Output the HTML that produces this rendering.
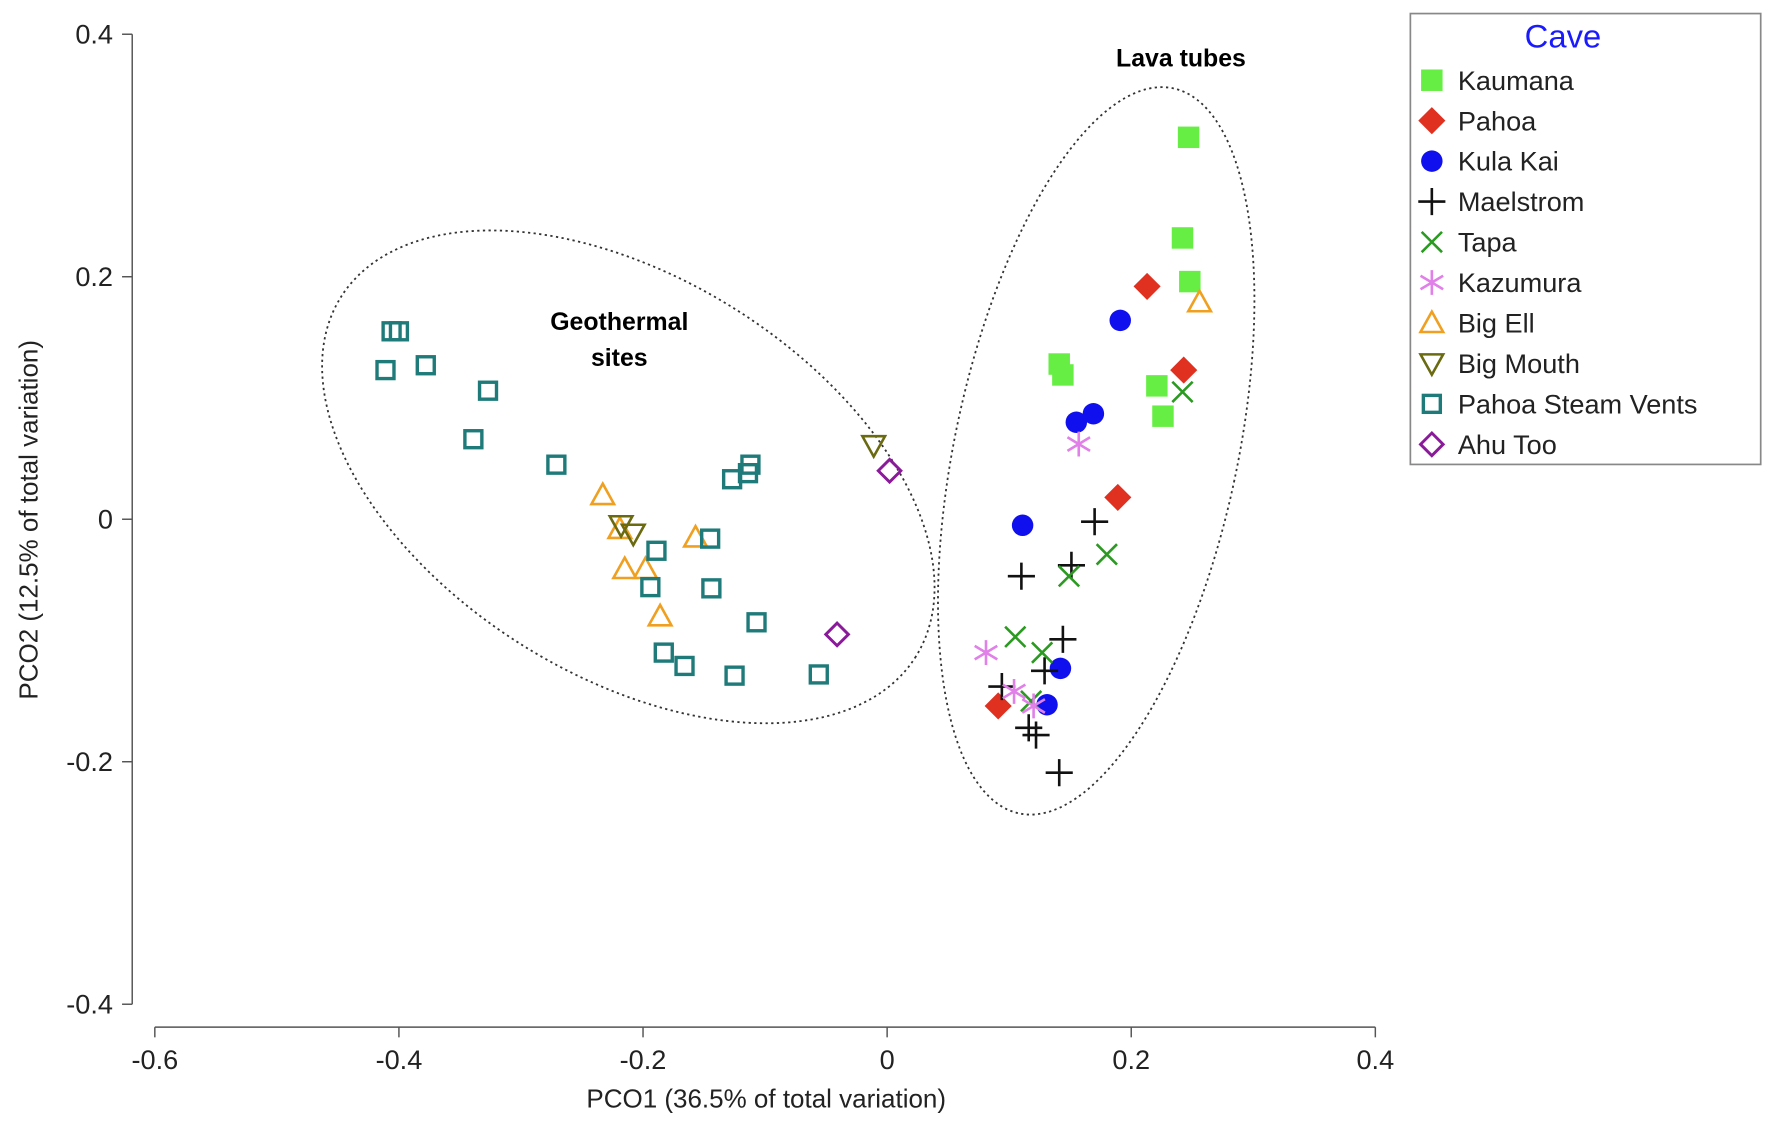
<!DOCTYPE html>
<html><head><meta charset="utf-8"><style>
html,body{margin:0;padding:0;background:#fff;}
svg{display:block;}
text{font-family:"Liberation Sans",sans-serif;}
</style></head><body>
<svg id="chart" width="1772" height="1130" viewBox="0 0 1568 1000" preserveAspectRatio="none" xmlns="http://www.w3.org/2000/svg">
<g id="axes"></g>
<ellipse cx="556" cy="422" rx="300" ry="176" transform="rotate(32 556 422)" fill="none" stroke="#333" stroke-width="1.6" stroke-dasharray="2 3"/>
<ellipse cx="970" cy="399" rx="125" ry="328" transform="rotate(12 970 399)" fill="none" stroke="#333" stroke-width="1.6" stroke-dasharray="2 3"/>
<text x="548" y="292" font-size="22" font-weight="bold" text-anchor="middle">Geothermal</text>
<text x="548" y="324" font-size="22" font-weight="bold" text-anchor="middle">sites</text>
<text x="1045" y="59" font-size="22" font-weight="bold" text-anchor="middle">Lava tubes</text>
<g id="points"></g>
<g id="legend">
<rect x="1248" y="12" width="310" height="399" fill="#fff" stroke="#888" stroke-width="1.5"/>
<text x="1383" y="42" font-size="29" fill="#1a1aff" text-anchor="middle">Cave</text>
</g>
</svg>
<script>
const xTicks=[-0.6,-0.4,-0.2,0,0.2,0.4];
const yTicks=[0.4,0.2,0,-0.2,-0.4];
const kaumanaX=[0.247,0.242,0.248,0.141,0.144,0.221,0.226];
const kaumanaY=[0.315,0.232,0.196,0.128,0.119,0.110,0.085];
const pahoaX=[0.213,0.243,0.189,0.091];
const pahoaY=[0.192,0.123,0.018,-0.154];
const kulaX=[0.191,0.169,0.155,0.111,0.142,0.131];
const kulaY=[0.164,0.087,0.080,-0.005,-0.123,-0.153];
const maelX=[0.170,0.151,0.110,0.144,0.129,0.094,0.116,0.122,0.141];
const maelY=[-0.002,-0.038,-0.047,-0.099,-0.125,-0.138,-0.172,-0.178,-0.209];
const tapaX=[0.242,0.180,0.149,0.105,0.127,0.118];
const tapaY=[0.105,-0.029,-0.047,-0.097,-0.110,-0.150];
const kazX=[0.157,0.081,0.104,0.120];
const kazY=[0.062,-0.110,-0.142,-0.154];
const bigEllX=[0.256,-0.233,-0.219,-0.157,-0.215,-0.198,-0.186];
const bigEllY=[0.179,0.020,-0.008,-0.015,-0.041,-0.041,-0.080];
const bigMouthX=[-0.011,-0.218,-0.208];
const bigMouthY=[0.061,-0.005,-0.012];
const steamX=[-0.406,-0.400,-0.411,-0.378,-0.327,-0.339,-0.271,-0.112,-0.114,-0.127,-0.145,-0.189,-0.194,-0.144,-0.107,-0.183,-0.166,-0.125,-0.056];
const steamY=[0.155,0.155,0.123,0.127,0.106,0.066,0.045,0.045,0.038,0.033,-0.016,-0.026,-0.056,-0.057,-0.085,-0.110,-0.121,-0.129,-0.128];
const ahuX=[0.002,-0.041];
const ahuY=[0.040,-0.095];
const seriesNames=["Kaumana","Pahoa","Kula Kai","Maelstrom","Tapa","Kazumura","Big Ell","Big Mouth","Pahoa Steam Vents","Ahu Too"];

const NS="http://www.w3.org/2000/svg";
function sx(v){return 785+v*1080;}
function sy(v){return 459.5-v*1073;}
function mk(tag,attrs,parent){const e=document.createElementNS(NS,tag);for(const k in attrs)e.setAttribute(k,attrs[k]);parent.appendChild(e);return e;}

const axes=document.getElementById('axes');
let l=mk('line',{x1:117,y1:sy(0.4),x2:117,y2:sy(-0.4),stroke:'#555','stroke-width':1.3},axes);


l=mk('line',{x1:sx(-0.6),y1:909,x2:sx(0.4),y2:909,stroke:'#555','stroke-width':1.3},axes);


yTicks.forEach(v=>{
 const t=mk('line',{x1:108,y1:sy(v),x2:117,y2:sy(v),stroke:'#555','stroke-width':1.3},axes);
 
 
 const tx=mk('text',{x:100,y:sy(v)+8,'font-size':24,'text-anchor':'end',fill:'#222'},axes);
 tx.textContent=v===0?'0':String(v);
 
 
});
xTicks.forEach(v=>{
 const t=mk('line',{x1:sx(v),y1:909,x2:sx(v),y2:918,stroke:'#555','stroke-width':1.3},axes);
 
 
 const tx=mk('text',{x:sx(v),y:946,'font-size':24,'text-anchor':'middle',fill:'#222'},axes);
 tx.textContent=v===0?'0':String(v);
 
 
});
let at=mk('text',{x:678,y:980,'font-size':23,'text-anchor':'middle',fill:'#222'},axes);
at.textContent='PCO1 (36.5% of total variation)';


at=mk('text',{x:0,y:0,'font-size':23,'text-anchor':'middle',fill:'#222',transform:'translate(33 460) rotate(-90)'},axes);
at.textContent='PCO2 (12.5% of total variation)';



function marker(type,x,y,g){
 let e;
 switch(type){
  case 'sq': e=mk('rect',{x:x-9.5,y:y-9.5,width:19,height:19,fill:'#66ee44'},g);break;
  case 'dia': e=mk('polygon',{points:`${x},${y-12} ${x+12},${y} ${x},${y+12} ${x-12},${y}`,fill:'#e03020'},g);break;
  case 'circ': e=mk('circle',{cx:x,cy:y,r:9.5,fill:'#1010ee'},g);break;
  case 'plus': e=mk('path',{d:`M${x-12} ${y}H${x+12}M${x} ${y-12}V${y+12}`,stroke:'#111','stroke-width':2.3,fill:'none'},g);break;
  case 'x': e=mk('path',{d:`M${x-9} ${y-9}L${x+9} ${y+9}M${x+9} ${y-9}L${x-9} ${y+9}`,stroke:'#2a9a20','stroke-width':2.3,fill:'none'},g);break;
  case 'ast': e=mk('path',{d:`M${x} ${y-11}V${y+11}M${x-10} ${y-6}L${x+10} ${y+6}M${x+10} ${y-6}L${x-10} ${y+6}`,stroke:'#e080e8','stroke-width':2.3,fill:'none'},g);break;
  case 'tri': e=mk('polygon',{points:`${x},${y-10} ${x+10},${y+8} ${x-10},${y+8}`,fill:'none',stroke:'#f0a020','stroke-width':2.3},g);break;
  case 'itri': e=mk('polygon',{points:`${x-10},${y-8} ${x+10},${y-8} ${x},${y+10}`,fill:'none',stroke:'#6a6a10','stroke-width':2.3},g);break;
  case 'osq': e=mk('rect',{x:x-7.5,y:y-7.5,width:15,height:15,fill:'none',stroke:'#1f7a7a','stroke-width':3},g);break;
  case 'odia': e=mk('polygon',{points:`${x},${y-10} ${x+10},${y} ${x},${y+10} ${x-10},${y}`,fill:'none',stroke:'#8a1a9a','stroke-width':2.6},g);break;
 }
 return e;
}
const types=['sq','dia','circ','plus','x','ast','tri','itri','osq','odia'];
const xs=[kaumanaX,pahoaX,kulaX,maelX,tapaX,kazX,bigEllX,bigMouthX,steamX,ahuX];
const ys=[kaumanaY,pahoaY,kulaY,maelY,tapaY,kazY,bigEllY,bigMouthY,steamY,ahuY];
const pts=document.getElementById('points');
types.forEach((t,i)=>{
 xs[i].forEach((v,j)=>{
  const e=marker(t,sx(v),sy(ys[i][j]),pts);
  
  
 });
});
const lg=document.getElementById('legend');
seriesNames.forEach((n,i)=>{
 const y=71+i*35.8;
 const m=marker(types[i],1267,y,lg);
 
 
 const tx=mk('text',{x:1290,y:y+8.5,'font-size':24,fill:'#222'},lg);
 tx.textContent=n;
 
 
});
</script>
</body></html>
